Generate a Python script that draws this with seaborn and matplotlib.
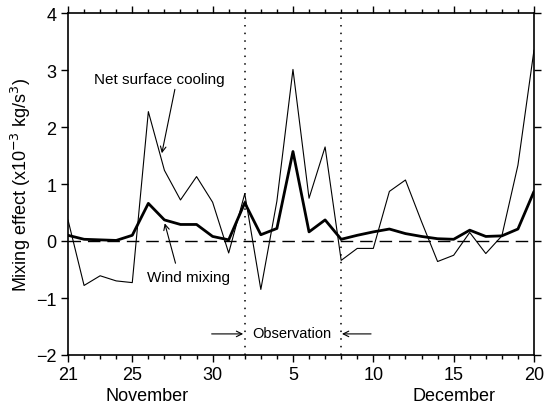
import matplotlib
matplotlib.use("Agg")
import matplotlib.pyplot as plt
import matplotlib.transforms as mtransforms
from matplotlib.ticker import FixedLocator, MultipleLocator
import seaborn as sns
import pandas as pd

# ---- data (daily, 21 Nov .. 20 Dec) ----
day_index = list(range(30))
tick_positions = [0, 4, 9, 14, 19, 24, 29]
tick_labels = ["21", "25", "30", "5", "10", "15", "20"]
wind_mixing = [0.10, 0.03, 0.02, 0.01, 0.10, 0.66, 0.37, 0.29, 0.29, 0.08,
               0.02, 0.67, 0.11, 0.22, 1.57, 0.16, 0.37, 0.03, 0.10, 0.16,
               0.21, 0.13, 0.08, 0.04, 0.03, 0.19, 0.08, 0.09, 0.21, 0.87]
net_cooling = [0.37, -0.78, -0.61, -0.70, -0.73, 2.27, 1.24, 0.72, 1.13, 0.68,
               -0.21, 0.83, -0.85, 0.70, 3.01, 0.75, 1.65, -0.34, -0.13, -0.13,
               0.87, 1.07, 0.34, -0.36, -0.25, 0.15, -0.22, 0.09, 1.33, 3.35]
observation_bounds = [11, 17]

sns.set_style("ticks")
plt.rcParams['font.family'] = ['Liberation Sans', 'DejaVu Sans']
plt.rcParams['text.color'] = 'black'
plt.rcParams['axes.labelcolor'] = 'black'

fig = plt.figure(figsize=(5.46, 4.06), dpi=100)
ax = fig.add_axes([68/546, 1 - 356/406, (534 - 68)/546, (356 - 14)/406])

df = pd.DataFrame({"day": day_index, "wind": wind_mixing, "cool": net_cooling})
sns.lineplot(data=df, x="day", y="cool", ax=ax, color="black", linewidth=0.8)
sns.lineplot(data=df, x="day", y="wind", ax=ax, color="black", linewidth=2.0)

ax.axhline(0, color="black", linewidth=1.0, dashes=(9, 5))
for xb in observation_bounds:
    ax.axvline(xb, color="black", linewidth=1.1, linestyle=(0, (1, 4)))

ax.set_xlim(0, 29)
ax.set_ylim(-2, 4)
ax.xaxis.set_major_locator(FixedLocator(tick_positions))
ax.set_xticklabels(tick_labels)
ax.xaxis.set_minor_locator(MultipleLocator(1))
ax.yaxis.set_major_locator(MultipleLocator(1))
ax.tick_params(axis="both", which="both", direction="out", top=True, right=True,
               labelsize=13, color="black", labelcolor="black", width=1.0)
ax.tick_params(which="major", length=5)
ax.tick_params(which="minor", length=3)
ax.tick_params(axis="x", pad=3)
for s in ax.spines.values():
    s.set_visible(True)
    s.set_linewidth(1.2)
    s.set_color("black")

ax.set_xlabel("")
ax.set_ylabel(r"Mixing effect (x10$^{-3}$ kg/s$^{3}$)", fontsize=13, labelpad=2)

trans = mtransforms.blended_transform_factory(ax.transData, fig.transFigure)
ax.text(4.9, 1 - 397/406, "November", transform=trans, ha="center", va="center", fontsize=13)
ax.text(24.0, 1 - 397/406, "December", transform=trans, ha="center", va="center", fontsize=13)

# annotations
arrow_kw = dict(arrowstyle="->", color="black", lw=0.8, shrinkA=0, shrinkB=0)
ax.text(5.7, 2.84, "Net surface cooling", ha="center", va="center", fontsize=11)
ax.annotate("", xy=(5.84, 1.54), xytext=(6.65, 2.66), arrowprops=arrow_kw)
ax.text(7.5, -0.64, "Wind mixing", ha="center", va="center", fontsize=11)
ax.annotate("", xy=(6.02, 0.31), xytext=(6.69, -0.39), arrowprops=arrow_kw)
ax.text(13.9, -1.62, "Observation", ha="center", va="center", fontsize=10.5)
ax.annotate("", xy=(10.9, -1.63), xytext=(8.94, -1.63), arrowprops=arrow_kw)
ax.annotate("", xy=(17.05, -1.63), xytext=(18.86, -1.63), arrowprops=arrow_kw)

fig.savefig("out.png", dpi=100)
